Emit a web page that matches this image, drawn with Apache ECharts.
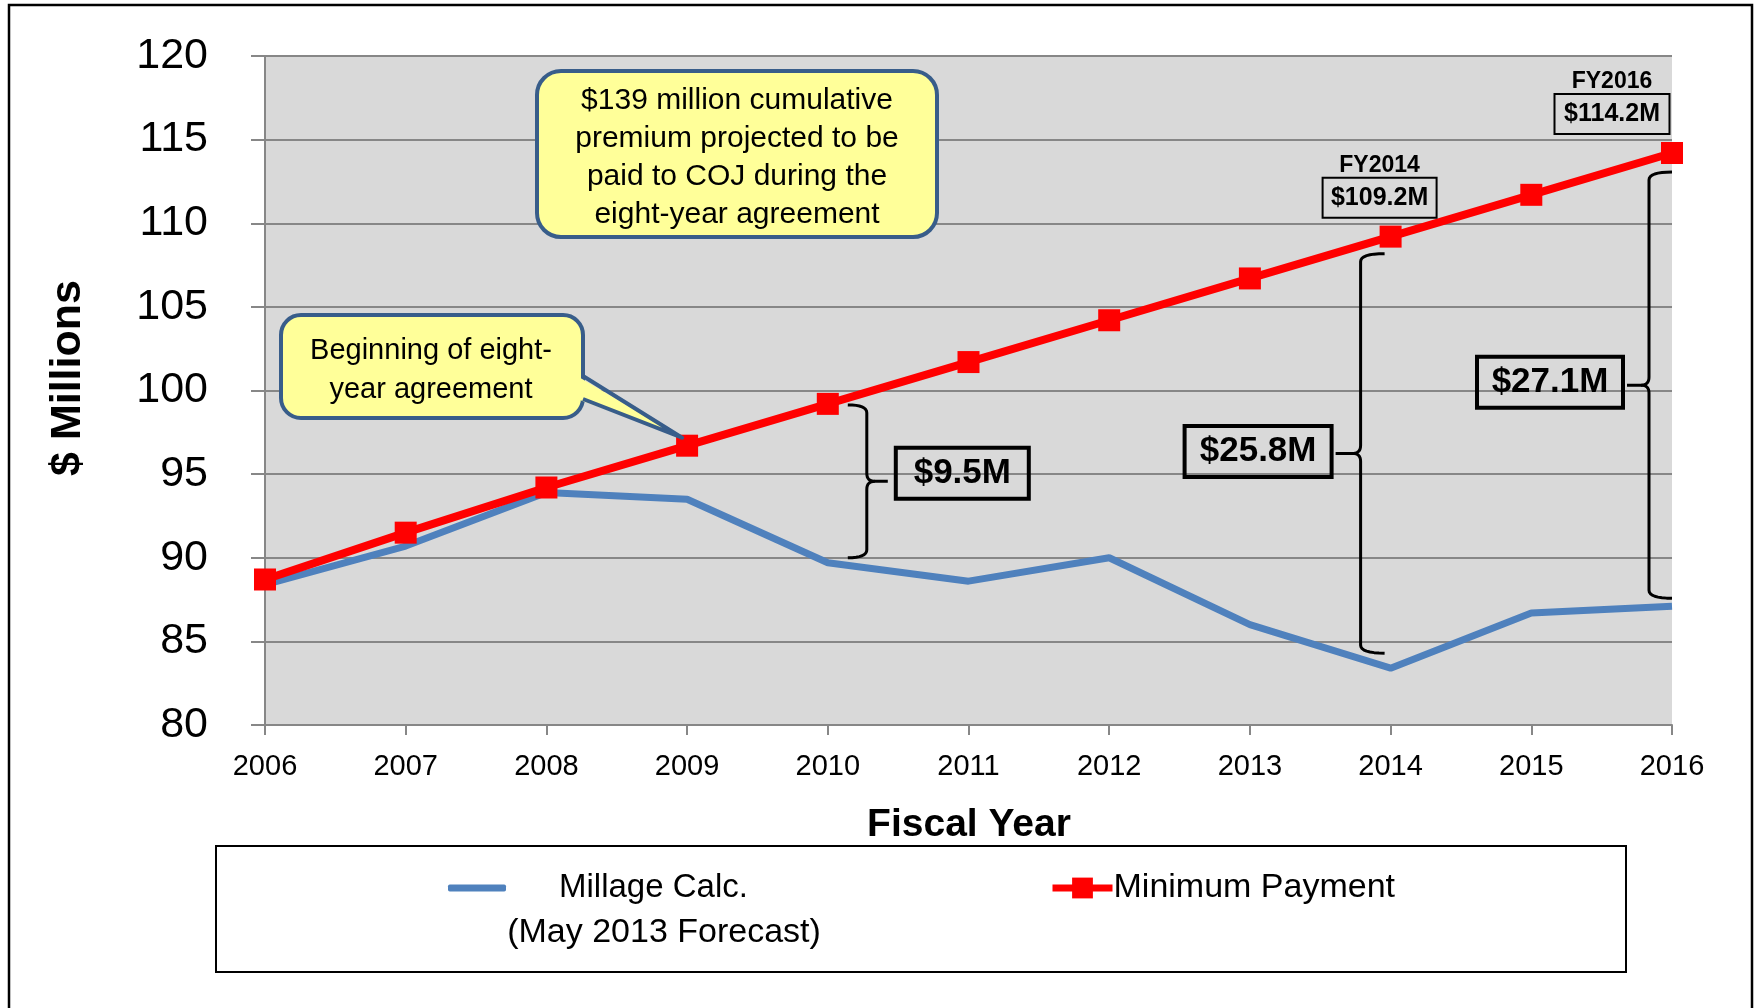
<!DOCTYPE html>
<html>
<head>
<meta charset="utf-8">
<script src="https://cdn.jsdelivr.net/npm/echarts@6/dist/echarts.min.js"></script>
<style>
html,body{margin:0;padding:0;background:#fff;}
#chart{width:1756px;height:1008px;}
</style>
</head>
<body>
<div id="chart"></div>
<script>
// ---- data ----
const years = ['2006','2007','2008','2009','2010','2011','2012','2013','2014','2015','2016'];
const millageCalc = [88.4, 90.7, 93.9, 93.5, 89.7, 88.6, 90.0, 86.0, 83.4, 86.7, 87.1];
const minimumPayment = [88.7, 91.5, 94.2, 96.7, 99.2, 101.7, 104.2, 106.7, 109.2, 111.7, 114.2];
const yMin = 80, yMax = 120, yStep = 5;
const gapYears = ['2010', '2014', '2016'];
const gapLabels = ['$9.5M', '$25.8M', '$27.1M'];
const fyYears = ['2014', '2016'];
const fyTitles = ['FY2014', 'FY2016'];
const fyLabels = ['$109.2M', '$114.2M'];
const calloutTop = ['$139 million cumulative', 'premium projected to be', 'paid to COJ during the', 'eight-year agreement'];
const calloutStart = ['Beginning of eight-', 'year agreement'];
const startYear = '2009';

const FONT = "'Liberation Sans', Arial, sans-serif";
const GRID = '#878787';

const chart = echarts.init(document.getElementById('chart'), null, {renderer: 'canvas'});

chart.setOption({
  animation: false,
  backgroundColor: '#fff',
  textStyle: {fontFamily: FONT},
  grid: {left: 265, right: 84, top: 56, bottom: 283, show: true, backgroundColor: '#D9D9D9', borderWidth: 0},
  legend: [
    {
      data: [{name: 'Millage Calc.', icon: 'roundRect'}], left: 448, top: 868, padding: 0,
      itemWidth: 58, itemHeight: 7,
      textStyle: {fontSize: 33, fontFamily: FONT, color: '#000', lineHeight: 40, padding: [0, 0, 0, 48]}
    },
    {
      data: ['Minimum Payment'], left: 1049, top: 868, padding: 0,
      itemWidth: 60, itemHeight: 26,
      lineStyle: {width: 7},
      textStyle: {fontSize: 34, fontFamily: FONT, color: '#000', lineHeight: 40, padding: [0, 0, 0, -4]}
    }
  ],
  xAxis: {
    type: 'category', data: years, boundaryGap: false,
    axisLine: {show: true, lineStyle: {color: GRID, width: 2}},
    axisTick: {show: true, length: 10, inside: false, interval: 0, lineStyle: {color: GRID, width: 2}},
    axisLabel: {interval: 0, fontSize: 29, color: '#000', fontFamily: FONT, margin: 27},
    splitLine: {show: false}
  },
  yAxis: {
    type: 'value', min: yMin, max: yMax, interval: yStep,
    axisLine: {show: true, lineStyle: {color: GRID, width: 2}},
    axisTick: {show: true, length: 14, lineStyle: {color: GRID, width: 2}},
    axisLabel: {fontSize: 43, color: '#000', fontFamily: FONT, margin: 57},
    splitLine: {show: true, lineStyle: {color: GRID, width: 2}}
  },
  series: [
    {
      name: 'Millage Calc.', type: 'line', data: millageCalc,
      symbol: 'none', showSymbol: false,
      lineStyle: {color: '#4F81BD', width: 7},
      itemStyle: {color: '#4F81BD'}
    },
    {
      name: 'Minimum Payment', type: 'line', data: minimumPayment,
      symbol: 'rect', symbolSize: 22, showSymbol: true,
      lineStyle: {color: '#FF0000', width: 8},
      itemStyle: {color: '#FF0000'}
    }
  ]
});

function px(yearStr, v) {
  return chart.convertToPixel({gridIndex: 0}, [years.indexOf(yearStr), v]);
}
function valOf(arr, yearStr) { return arr[years.indexOf(yearStr)]; }

function quad(out, p0, c, p1, n) {
  for (let k = 1; k <= n; k++) {
    const t = k / n, u = 1 - t;
    out.push([u * u * p0[0] + 2 * u * t * c[0] + t * t * p1[0], u * u * p0[1] + 2 * u * t * c[1] + t * t * p1[1]]);
  }
}
function bracePolylines(x, y1, y2, dir, hook, tip) {
  const r = 8, n = 8;
  const ym = (y1 + y2) / 2;
  const hx = x - dir * hook;
  const tx = x + dir * tip;
  const a = [[hx, y1]];
  quad(a, [hx, y1], [x, y1], [x, y1 + r], n);
  a.push([x, ym - r]);
  quad(a, [x, ym - r], [x, ym], [x + dir * r, ym], n);
  a.push([tx, ym]);
  const b = [[x + dir * r, ym]];
  quad(b, [x + dir * r, ym], [x, ym], [x, ym + r], n);
  b.push([x, y2 - r]);
  quad(b, [x, y2 - r], [x, y2], [hx, y2], n);
  return [a, b];
}

const g = [];
// outer frame
g.push({type: 'rect', shape: {x: 9, y: 5, width: 1743, height: 1020}, style: {fill: null, stroke: '#000', lineWidth: 2.5}, z: 100});
// legend box
g.push({type: 'rect', shape: {x: 216, y: 846, width: 1410, height: 126}, style: {fill: null, stroke: '#000', lineWidth: 2}, z: 100});
g.push({type: 'text', x: 664, y: 933, style: {text: '(May 2013 Forecast)', fontSize: 34, fontFamily: FONT, fill: '#000', align: 'center', verticalAlign: 'middle'}, z: 100});
// axis titles
g.push({type: 'text', x: 969, y: 825, style: {text: 'Fiscal Year', fontSize: 39, fontWeight: 'bold', fontFamily: FONT, fill: '#000', align: 'center', verticalAlign: 'middle'}, z: 100});
g.push({type: 'text', x: 68, y: 378, rotation: Math.PI / 2, style: {text: '$ Millions', fontSize: 43, fontWeight: 'bold', fontFamily: FONT, fill: '#000', align: 'center', verticalAlign: 'middle'}, z: 100});

// top callout
g.push({type: 'rect', shape: {x: 537, y: 71, width: 400, height: 166, r: 24}, style: {fill: '#FFFF99', stroke: '#385D8A', lineWidth: 4}, z: 100});
g.push({type: 'text', x: 737, y: 158, style: {text: calloutTop.join('\n'), fontSize: 30, lineHeight: 38, fontFamily: FONT, fill: '#000', align: 'center', verticalAlign: 'middle'}, z: 101});

// start-of-agreement callout with pointer to the 2009 marker
const tipPt = px(startYear, valOf(minimumPayment, startYear));
const tip = [tipPt[0] - 5, tipPt[1] - 8];
g.push({type: 'rect', shape: {x: 281, y: 315, width: 302, height: 103, r: 20}, style: {fill: '#FFFF99', stroke: '#385D8A', lineWidth: 4}, z: 100});
g.push({type: 'polygon', shape: {points: [[577, 376], tip, [577, 399]]}, style: {fill: '#FFFF99', stroke: null}, z: 101});
g.push({type: 'polyline', shape: {points: [[583, 376], tip, [583, 399]]}, style: {fill: null, stroke: '#385D8A', lineWidth: 4, lineJoin: 'round'}, z: 101});
g.push({type: 'text', x: 431, y: 370, style: {text: calloutStart.join('\n'), fontSize: 29, lineHeight: 39, fontFamily: FONT, fill: '#000', align: 'center', verticalAlign: 'middle'}, z: 102});

// braces + gap labels
const braceCfg = [
  {dx: 39, dTop: 1, dBot: -5, dir: 1, hook: 19, tip: 21, boxW: 133, boxH: 51, boxDy: -8},
  {dx: -30, dTop: 17, dBot: -15, dir: -1, hook: 24, tip: 25, boxW: 147, boxH: 51, boxDy: -2},
  {dx: -23, dTop: 19, dBot: -8, dir: -1, hook: 23, tip: 22, boxW: 146, boxH: 51, boxDy: -3}
];
gapYears.forEach(function (yr, i) {
  const c = braceCfg[i];
  const top = px(yr, valOf(minimumPayment, yr));
  const bot = px(yr, valOf(millageCalc, yr));
  const x = top[0] + c.dx;
  const y1 = top[1] + c.dTop;
  const y2 = bot[1] + c.dBot;
  bracePolylines(x, y1, y2, c.dir, c.hook, c.tip).forEach(function (pts) {
    g.push({type: 'polyline', shape: {points: pts}, style: {fill: null, stroke: '#000', lineWidth: 3, lineJoin: 'round'}, z: 90});
  });
  const ym = (y1 + y2) / 2 + c.boxDy;
  const tipX = x + c.dir * c.tip;
  const bx = c.dir > 0 ? tipX + 8 : tipX - 4 - c.boxW;
  g.push({type: 'rect', shape: {x: bx, y: ym - c.boxH / 2, width: c.boxW, height: c.boxH}, style: {fill: null, stroke: '#000', lineWidth: 4}, z: 90});
  g.push({type: 'text', x: bx + c.boxW / 2, y: ym, style: {text: gapLabels[i], fontSize: 35, fontWeight: 'bold', fontFamily: FONT, fill: '#000', align: 'center', verticalAlign: 'middle'}, z: 91});
});

// FY value labels
const fyCfg = [{dx: -11, boxW: 114}, {dx: -60, boxW: 115}];
fyYears.forEach(function (yr, i) {
  const p = px(yr, valOf(minimumPayment, yr));
  const cx = p[0] + fyCfg[i].dx;
  const boxBot = p[1] - 19;
  const boxH = 40;
  g.push({type: 'rect', shape: {x: cx - fyCfg[i].boxW / 2, y: boxBot - boxH, width: fyCfg[i].boxW, height: boxH}, style: {fill: null, stroke: '#000', lineWidth: 2}, z: 90});
  g.push({type: 'text', x: cx, y: boxBot - boxH / 2, style: {text: fyLabels[i], fontSize: 25, fontWeight: 'bold', fontFamily: FONT, fill: '#000', align: 'center', verticalAlign: 'middle'}, z: 91});
  g.push({type: 'text', x: cx, y: boxBot - boxH - 12, style: {text: fyTitles[i], fontSize: 23, fontWeight: 'bold', fontFamily: FONT, fill: '#000', align: 'center', verticalAlign: 'middle'}, z: 91});
});

chart.setOption({graphic: {elements: g}});
</script>
</body>
</html>
